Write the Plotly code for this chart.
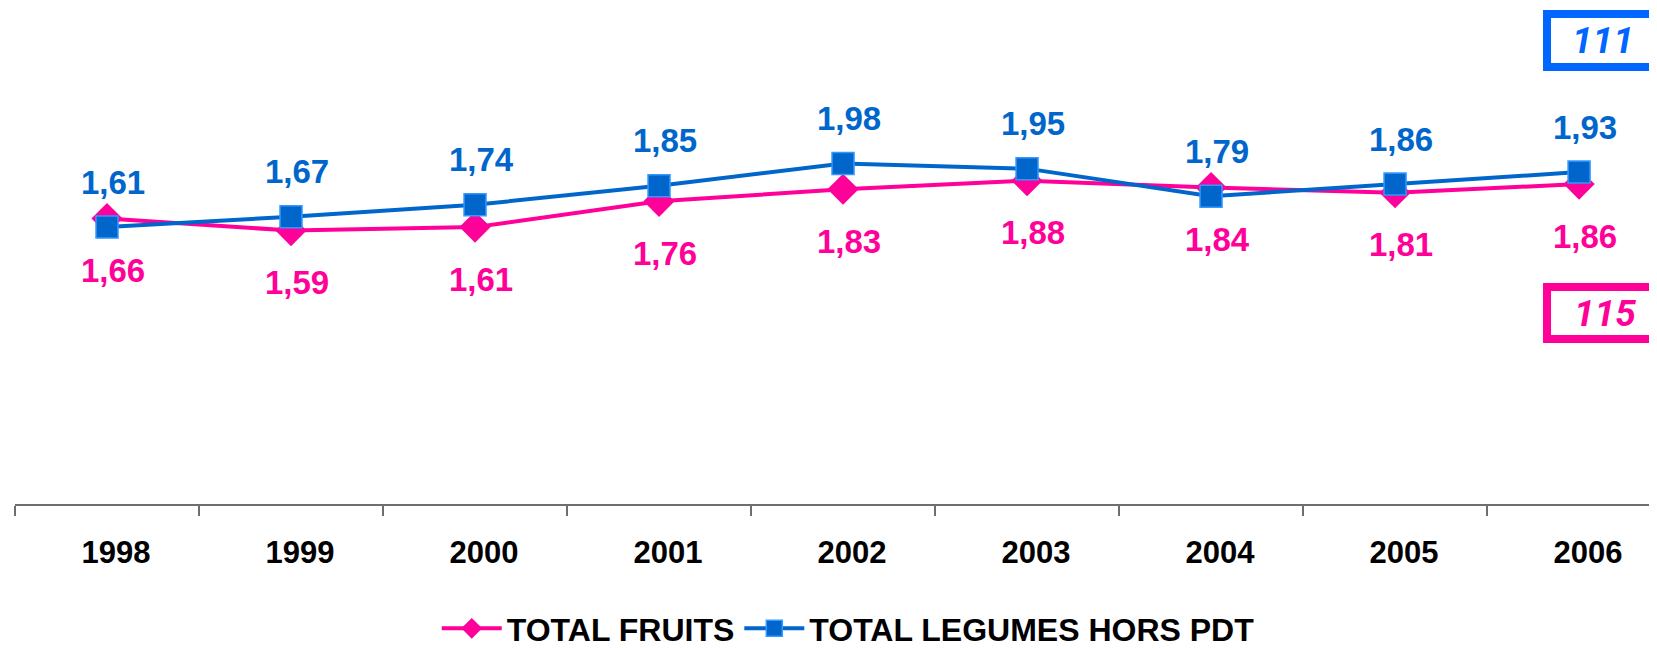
import plotly.graph_objects as go

# data
years = ["1998", "1999", "2000", "2001", "2002", "2003", "2004", "2005", "2006"]
fruits = [1.66, 1.59, 1.61, 1.76, 1.83, 1.88, 1.84, 1.81, 1.86]
legumes = [1.61, 1.67, 1.74, 1.85, 1.98, 1.95, 1.79, 1.86, 1.93]
fruits_index = "115"
legumes_index = "111"

PINK = "#FF0099"
BLUE = "#0066CC"
BOX_BLUE = "#0066FF"
FONT = "Liberation Sans, Arial, sans-serif"
ITALIC_FONT = "Roboto, Open Sans, sans-serif"


def fmt(v):
    return f"{v:.2f}".replace(".", ",")


fig = go.Figure()

fig.add_trace(go.Scatter(
    x=years, y=fruits, name="TOTAL FRUITS", mode="lines+markers",
    line=dict(color=PINK, width=4),
    marker=dict(symbol="diamond", size=24, color=PINK),
))
fig.add_trace(go.Scatter(
    x=years, y=legumes, name="TOTAL LEGUMES HORS PDT", mode="lines+markers",
    line=dict(color=BLUE, width=4),
    marker=dict(symbol="square", size=22, color=BLUE, line=dict(color="#3399FF", width=1.5)),
))

# value labels: legumes above, fruits below (category axis -> use serial index)
for i, v in enumerate(legumes):
    fig.add_annotation(x=i, y=v, text=fmt(v), showarrow=False, xanchor="center", yanchor="middle",
                       xshift=6, yshift=45, font=dict(family=FONT, size=33, color=BLUE, weight="bold"))
for i, v in enumerate(fruits):
    fig.add_annotation(x=i, y=v, text=fmt(v), showarrow=False, xanchor="center", yanchor="middle",
                       xshift=6, yshift=-52, font=dict(family=FONT, size=33, color=PINK, weight="bold"))

# index boxes on the right (frame as shape, number as text)
fig.add_shape(type="rect", xref="paper", yref="paper", x0=0.9285, x1=1.05, y0=0.881, y1=0.9879,
              line=dict(color=BOX_BLUE, width=8), fillcolor="white", layer="above")
fig.add_shape(type="rect", xref="paper", yref="paper", x0=0.9285, x1=1.05, y0=0.3327, y1=0.4375,
              line=dict(color=PINK, width=8), fillcolor="white", layer="above")
fig.add_annotation(xref="paper", yref="paper", x=0.9624, y=0.9345, text=legumes_index, showarrow=False,
                   xanchor="center", yanchor="middle",
                   font=dict(family=ITALIC_FONT, size=37, color=BOX_BLUE, weight="bold", style="italic"))
fig.add_annotation(xref="paper", yref="paper", x=0.9636, y=0.385, text=fruits_index, showarrow=False,
                   xanchor="center", yanchor="middle",
                   font=dict(family=ITALIC_FONT, size=37, color=PINK, weight="bold", style="italic"))

fig.update_xaxes(
    type="category", range=[-0.5, 8.467],
    showline=True, linecolor="#6E6E6E", linewidth=1.5,
    ticks="outside", tickson="boundaries", ticklen=10, tickcolor="#6E6E6E", tickwidth=1.5,
    ticklabelstandoff=20, ticklabelshift=9, showgrid=False, zeroline=False,
    tickfont=dict(family=FONT, size=31, color="black", weight="bold"),
)
fig.update_yaxes(visible=False, range=[0, 2.884], showgrid=False, zeroline=False)

fig.update_layout(
    width=1657, height=648,
    margin=dict(l=7, r=0, t=0, b=152),
    paper_bgcolor="white", plot_bgcolor="white",
    showlegend=True,
    legend=dict(orientation="h", x=0.505, xanchor="center", yref="container", y=0, yanchor="bottom",
                font=dict(family=FONT, size=32, color="black", weight="bold"),
                itemwidth=60, tracegroupgap=0),
)

fig.write_html("out.html")
